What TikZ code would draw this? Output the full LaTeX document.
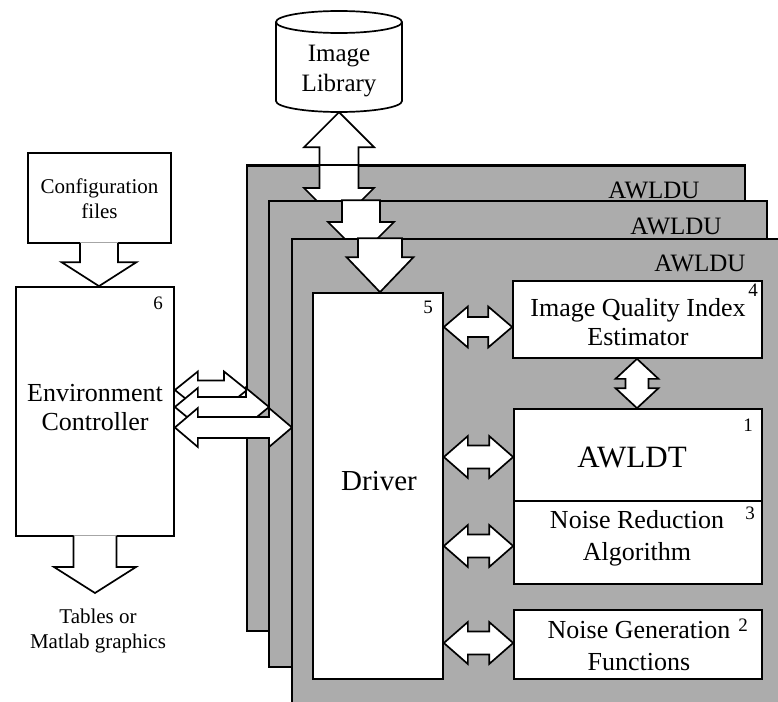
\documentclass[tikz,border=0pt]{standalone}
\usepackage{fontspec}
\setmainfont{Liberation Serif}
\usetikzlibrary{calc}

\definecolor{panelgray}{RGB}{172,172,172}

\tikzset{
  box/.style={draw, fill=white, line width=1.7pt, inner sep=0pt},
  ghost/.style={inner sep=0pt},
  panel/.style={draw, fill=panelgray, line width=1.7pt, inner sep=0pt},
  blockarrow/.style={draw, fill=white, line width=1.7pt, line join=miter},
  txt/.style={font=\fontsize{26pt}{29pt}\selectfont, align=center, inner sep=0pt},
  bigtxt/.style={font=\fontsize{29pt}{32pt}\selectfont, align=center, inner sep=0pt},
  smalltxt/.style={font=\fontsize{21pt}{25pt}\selectfont, align=center, inner sep=0pt},
  num/.style={font=\fontsize{19pt}{21pt}\selectfont, inner sep=0pt},
  unitlabel/.style={font=\fontsize{25pt}{28pt}\selectfont, inner sep=0pt},
}

% horizontal double block arrow: from, to, y, head length, head half-width, shaft half-width
\newcommand\hdarrow[6]{%
  \draw[blockarrow] let \p1=(#1), \p2=(#2), \p3=(0,#3) in
    (\x1,\y3) -- (\x1+#4,\y3+#5) -- (\x1+#4,\y3+#6) -- (\x2-#4,\y3+#6) -- (\x2-#4,\y3+#5)
    -- (\x2,\y3) -- (\x2-#4,\y3-#5) -- (\x2-#4,\y3-#6) -- (\x1+#4,\y3-#6) -- (\x1+#4,\y3-#5) -- cycle;}
% vertical double block arrow: upper end, lower end, x, head length, head half-width, shaft half-width
\newcommand\vdarrow[6]{%
  \draw[blockarrow] let \p1=(#1), \p2=(#2), \p3=(#3,0) in
    (\x3,\y1) -- (\x3+#5,\y1-#4) -- (\x3+#6,\y1-#4) -- (\x3+#6,\y2+#4) -- (\x3+#5,\y2+#4)
    -- (\x3,\y2) -- (\x3-#5,\y2+#4) -- (\x3-#6,\y2+#4) -- (\x3-#6,\y1-#4) -- (\x3-#5,\y1-#4) -- cycle;}
% downward block arrow with a closed tail
\newcommand\vsarrow[6]{%
  \draw[blockarrow] let \p1=(#1), \p2=(#2), \p3=(#3,0) in
    (\x3-#6,\y1) -- (\x3-#6,\y2+#4) -- (\x3-#5,\y2+#4) -- (\x3,\y2) -- (\x3+#5,\y2+#4)
    -- (\x3+#6,\y2+#4) -- (\x3+#6,\y1) -- cycle;}
% downward block arrow whose tail merges into the box above
\newcommand\vsarrowopen[6]{%
  \fill[white] let \p1=(#1), \p2=(#2), \p3=(#3,0) in
    (\x3-#6,\y1+1.5) -- (\x3-#6,\y2+#4) -- (\x3-#5,\y2+#4) -- (\x3,\y2) -- (\x3+#5,\y2+#4)
    -- (\x3+#6,\y2+#4) -- (\x3+#6,\y1+1.5) -- cycle;
  \draw[line width=1.7pt, line join=miter] let \p1=(#1), \p2=(#2), \p3=(#3,0) in
    (\x3-#6,\y1+0.85) -- (\x3-#6,\y2+#4) -- (\x3-#5,\y2+#4) -- (\x3,\y2) -- (\x3+#5,\y2+#4)
    -- (\x3+#6,\y2+#4) -- (\x3+#6,\y1+0.85);}

\begin{document}
\begin{tikzpicture}[x=1pt, y=-1pt]
\useasboundingbox (0,0) rectangle (778,701);
\clip (0,0) rectangle (778,701);

% ---------- environment side ----------
\node[box, minimum width=143pt, minimum height=90pt] (config) at (99.5,198) {};
\node[smalltxt] (configtxt) at (99.5,199) {Configuration\\files};
\node[box, minimum width=158pt, minimum height=249pt] (env) at (95,411.5) {};
\node[txt] (envtxt) at (95,408) {Environment\\Controller};
\node[num] (n6) at (158,303) {6};
\coordinate (outtip) at (95,593);
\vsarrowopen{config.south}{env.north}{99}{24}{37.5}{19}
\vsarrowopen{env.south}{outtip}{95}{26}{41}{21.5}
\node[smalltxt] (tables) at (98,631) {Tables or\\Matlab graphics};

% ---------- back unit ----------
\coordinate (p1west) at (247,390);
\hdarrow{env.east}{p1west}{390}{23}{18.5}{9.5}
\node[panel, minimum width=498pt, minimum height=465pt] (p1) at (496,398.5) {};
\node[unitlabel] (u1) at (654,190) {AWLDU};

% image library
\node[ghost, minimum width=126pt, minimum height=102pt] (lib) at (339,61) {};
\draw[box] (276,22) -- (276,101) arc[start angle=180, end angle=360, x radius=63pt, y radius=11pt]
  -- (402,22) arc[start angle=0, end angle=180, x radius=63pt, y radius=11pt] -- cycle;
\draw[line width=1.7pt] (276,22) arc[start angle=180, end angle=360, x radius=63pt, y radius=11pt];
\node[unitlabel, align=center, font=\fontsize{25pt}{30pt}\selectfont] (libtxt) at (339,71) {Image\\Library};
\coordinate (libend) at (339,223);
\vdarrow{lib.south}{libend}{339}{35}{35}{19.5}
\draw[line width=1.7pt] (p1.north west) -- (p1.north east);

% ---------- middle unit ----------
\coordinate (p2west) at (269,407);
\hdarrow{env.east}{p2west}{407}{23}{19}{10}
\node[panel, minimum width=498pt, minimum height=466pt] (p2) at (518,434) {};
\node[unitlabel] (u2) at (676,226) {AWLDU};
\coordinate (p2end) at (361,255);
\vsarrow{p2.north}{p2end}{361}{33}{33}{19}

% ---------- front unit ----------
\coordinate (p3west) at (292,427.5);
\hdarrow{env.east}{p3west}{427.5}{23}{19.5}{10.5}
\node[panel, minimum width=498pt, minimum height=473pt] (p3) at (541,475.5) {};
\node[unitlabel] (u3) at (700,263) {AWLDU};

% driver
\node[box, minimum width=130pt, minimum height=386pt] (driver) at (378,486) {};
\node[bigtxt] (drivertxt) at (379,481) {Driver};
\node[num] (n5) at (428,307) {5};
\vsarrow{p3.north}{driver.north}{380}{35}{33.5}{22}

% modules
\node[box, minimum width=249pt, minimum height=77pt] (iqi) at (637.5,319.5) {};
\node[txt] (iqitxt) at (638,322) {Image Quality Index\\Estimator};
\node[num] (n4) at (753,290) {4};

\node[box, minimum width=248pt, minimum height=92pt] (awldt) at (638,455) {};
\node[font=\fontsize{31pt}{34pt}\selectfont, inner sep=0pt] (awldttxt) at (632,457) {AWLDT};
\node[num] (n1) at (748,425) {1};

\node[box, minimum width=248pt, minimum height=83pt] (nra) at (638,542.5) {};
\node[txt, font=\fontsize{26pt}{32pt}\selectfont] (nratxt) at (637,538) {Noise Reduction\\Algorithm};
\node[num] (n3) at (750,513) {3};

\node[box, minimum width=248pt, minimum height=69pt] (ngf) at (638,644.5) {};
\node[txt, font=\fontsize{26pt}{32pt}\selectfont] (ngftxt) at (639,646) {Noise Generation\\Functions};
\node[num] (n2) at (743,625) {2};

\hdarrow{driver.east}{iqi.west}{327}{24}{20.5}{10}
\hdarrow{driver.east}{awldt.west}{457}{24}{21}{11.5}
\hdarrow{driver.east}{nra.west}{546}{24}{21}{11.5}
\hdarrow{driver.east}{ngf.west}{643}{24}{21}{11.5}
\vdarrow{iqi.south}{awldt.north}{637}{20}{21.5}{11.5}
\end{tikzpicture}
\end{document}
